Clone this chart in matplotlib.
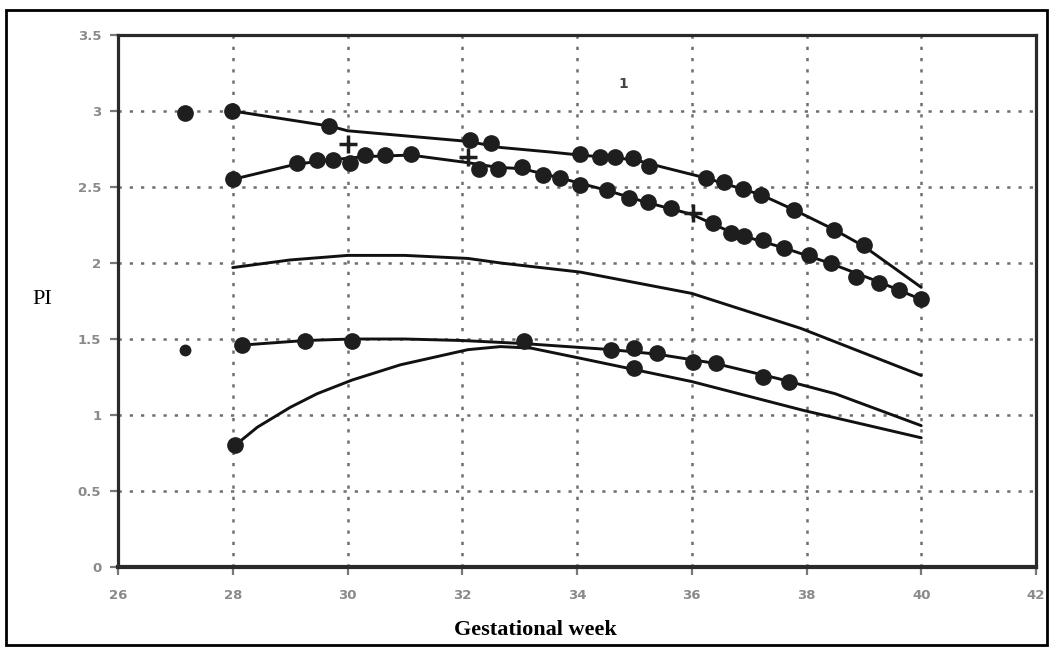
import matplotlib
matplotlib.use("Agg")
import matplotlib.pyplot as plt
from matplotlib.patches import Rectangle

# ---------------- data ----------------
x_ticks = [26, 28, 30, 32, 34, 36, 38, 40, 42]
y_ticks = [0, 0.5, 1, 1.5, 2, 2.5, 3, 3.5]
y_tick_labels = ["0", "0.5", "1", "1.5", "2", "2.5", "3", "3.5"]

# curve 1 (upper, with markers)
c1_x = [28, 29.7, 30, 32.1, 32.67, 33.54, 34.05, 35.0, 35.5, 36.24, 37.2, 37.78, 38.48, 39.0, 40.0]
c1_y = [3.0, 2.9, 2.87, 2.8, 2.76, 2.73, 2.71, 2.68, 2.63, 2.56, 2.45, 2.35, 2.22, 2.11, 1.84]
m1_x = [27.17, 27.98, 29.67, 32.14, 32.5, 34.05, 34.4, 34.67, 34.97, 35.25,
        36.24, 36.56, 36.89, 37.2, 37.78, 38.48, 39.0]
m1_y = [2.99, 3.0, 2.9, 2.81, 2.79, 2.72, 2.70, 2.70, 2.69, 2.64,
        2.56, 2.53, 2.49, 2.45, 2.35, 2.22, 2.12]

# curve 2 (second, with markers)
c2_x = [28, 29.1, 29.75, 30.3, 31.1, 32.1, 32.6, 33.05, 33.7, 34.5, 35.2, 36.0,
        36.7, 37.6, 38.4, 39.3, 40.0]
c2_y = [2.55, 2.65, 2.68, 2.70, 2.71, 2.66, 2.63, 2.62, 2.56, 2.48, 2.40, 2.32,
        2.20, 2.10, 2.00, 1.87, 1.76]
m2_x = [28.0, 29.12, 29.47, 29.75, 30.05, 30.31, 30.66, 31.1, 32.3, 32.63, 33.05,
        33.4, 33.71, 34.06, 34.53, 34.9, 35.23, 35.63, 36.37, 36.68, 36.91, 37.24,
        37.61, 38.04, 38.43, 38.86, 39.26, 39.61, 40.0]
m2_y = [2.55, 2.66, 2.68, 2.68, 2.66, 2.71, 2.71, 2.72, 2.62, 2.62, 2.63,
        2.58, 2.56, 2.51, 2.48, 2.43, 2.40, 2.36, 2.26, 2.20, 2.18, 2.15,
        2.10, 2.05, 2.00, 1.91, 1.87, 1.82, 1.76]
cross_x = [30.0, 32.1, 36.03]
cross_y = [2.78, 2.70, 2.33]

# curve 3 (around 2.0, no markers)
c3_x = [28, 29, 30, 31, 32.1, 32.67, 34.06, 36.0, 37.9, 40.0]
c3_y = [1.97, 2.02, 2.05, 2.05, 2.03, 2.0, 1.94, 1.80, 1.57, 1.26]

# curve 4 (around 1.5, with markers)
c4_x = [28.16, 29.26, 30.08, 31, 32, 33.07, 34.6, 35.4, 36.4, 37.5, 38.5, 40.0]
c4_y = [1.46, 1.49, 1.50, 1.50, 1.49, 1.47, 1.43, 1.40, 1.34, 1.24, 1.14, 0.93]
m4_x = [28.16, 29.26, 30.08, 33.07, 34.6, 35.0, 35.4, 36.02, 36.42, 37.24, 37.7]
m4_y = [1.46, 1.49, 1.49, 1.49, 1.43, 1.44, 1.41, 1.35, 1.34, 1.25, 1.22]
iso4_x = [27.17]
iso4_y = [1.43]

# curve 5 (lowest, rising from 0.8)
c5_x = [28.04, 28.43, 29.0, 29.47, 30.08, 30.92, 32.1, 32.67, 33.2, 34.1, 36.0, 37.95, 40.0]
c5_y = [0.80, 0.92, 1.05, 1.14, 1.23, 1.33, 1.43, 1.45, 1.44, 1.37, 1.22, 1.03, 0.85]
m5_x = [28.04, 34.99]
m5_y = [0.80, 1.31]

note_text = "1"
note_x, note_y = 34.8, 3.18

# ---------------- figure ----------------
W, H = 1049, 647
fig = plt.figure(figsize=(W / 100, H / 100), dpi=100)
fig.patch.set_facecolor("white")

L, R, T, B = 118, 1036, 35, 567
ax = fig.add_axes([L / W, 1 - B / H, (R - L) / W, (B - T) / H])
ax.set_xlim(26, 42)
ax.set_ylim(0, 3.5)

# grid
grid_kw = dict(color="#6e6e6e", lw=1.8, ls=(0, (1.3, 3.2)), zorder=1)
for xv in x_ticks[1:-1]:
    ax.axvline(xv, **grid_kw)
for yv in y_ticks[1:-1]:
    ax.axhline(yv, **grid_kw)

line_kw = dict(color="#111111", lw=2.1, zorder=3, solid_capstyle="round")
mk_kw = dict(ls="none", marker="o", ms=11, color="#1e1e1e", mec="#1e1e1e", zorder=4)

ax.plot(c1_x, c1_y, **line_kw)
ax.plot(c2_x, c2_y, **line_kw)
ax.plot(c3_x, c3_y, **line_kw)
ax.plot(c4_x, c4_y, **line_kw)
ax.plot(c5_x, c5_y, **line_kw)

ax.plot(m1_x, m1_y, **mk_kw)
ax.plot(m2_x, m2_y, **mk_kw)
ax.plot(m4_x, m4_y, **mk_kw)
ax.plot(iso4_x, iso4_y, ls="none", marker="o", ms=7.5, color="#1e1e1e", zorder=4)
ax.plot(m5_x, m5_y, **mk_kw)
ax.plot(cross_x, cross_y, ls="none", marker="+", ms=13, mew=2.5, color="#1e1e1e", zorder=4)

ax.text(note_x, note_y, note_text, fontsize=10, color="#444444", fontweight="bold",
        family=["Liberation Sans Narrow", "DejaVu Sans"], ha="center", va="center")

# spines
for side in ["left", "right", "top", "bottom"]:
    ax.spines[side].set_color("#2a2a2a")
    ax.spines[side].set_linewidth(2.3)
ax.spines["bottom"].set_linewidth(3.0)

ax.set_xticks(x_ticks)
ax.set_xticklabels([str(v) for v in x_ticks])
ax.set_yticks(y_ticks)
ax.set_yticklabels(y_tick_labels)
ax.tick_params(axis="both", direction="out", length=6, width=1.6, color="#777777",
               labelcolor="#8a8a8a", labelsize=9.5)
ax.tick_params(axis="x", pad=10)
ax.tick_params(axis="y", pad=6)
for lbl in ax.get_xticklabels() + ax.get_yticklabels():
    lbl.set_family(["Liberation Sans Narrow", "DejaVu Sans"])
    lbl.set_fontweight("bold")

# axis titles
fig.text(42 / W, 1 - 300 / H, "PI", fontsize=16, family=["Liberation Serif", "DejaVu Serif"],
         ha="center", va="center")
fig.text(535 / W, 1 - 630 / H, "Gestational week", fontsize=16, fontweight="bold",
         family=["Liberation Serif", "DejaVu Serif"], ha="center", va="center")

# outer frame
fig.add_artist(Rectangle((6 / W, 1 - 645 / H), (1047 - 6) / W, (645 - 10) / H,
                         transform=fig.transFigure, fill=False, ec="black", lw=2))

fig.savefig("out.png", dpi=100, facecolor="white")
